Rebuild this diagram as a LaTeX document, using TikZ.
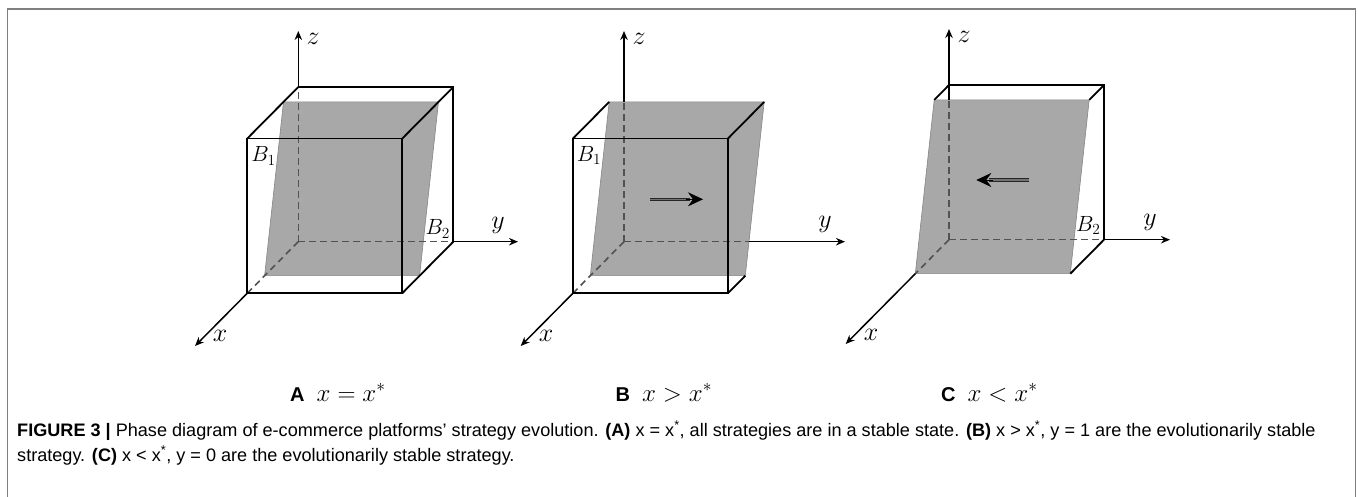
\RequirePackage{fix-cm}
\documentclass[tikz,border=0pt]{standalone}
\usepackage{fontspec}
\setmainfont{Liberation Sans}
\usetikzlibrary{arrows.meta}
\begin{document}
\begin{tikzpicture}[x=1pt,y=-1pt,
  edge/.style={line width=1.8pt,black,line join=miter},
  hid/.style={line width=1.6pt,draw=black!68,dash pattern=on 6.5pt off 4.5pt},
  axisarrow/.style={line width=1.5pt,black,-{Stealth[length=9pt,width=7.5pt]}},
  planefill/.style={fill=black!34,draw=black!48,line width=0.6pt},
  mlab/.style={font=\fontsize{26}{26}\selectfont,inner sep=0pt},
  blab/.style={font=\fontsize{22}{22}\selectfont,inner sep=0pt},
  plab/.style={font=\fontsize{20}{20}\selectfont,inner sep=0pt,anchor=base west},
  captext/.style={font=\fontsize{18.1}{22}\selectfont,inner sep=0pt,anchor=base west},
  dshaft/.style={line width=0.9pt,draw=black!85,double=black!55,double distance=1.3pt},
  dhead/.style={line width=0.8pt,black,-{Stealth[length=15pt,width=14pt,inset=5pt]}}]
\useasboundingbox (0,0) rectangle (1358,497);
% frame
\draw[black!50,line width=1.8pt] (7.5,497) -- (7.5,9) -- (1355.5,9) -- (1355.5,497);

% ================= Panel A =================
\begin{scope}
\coordinate (aO) at (298.3,241.7);
\coordinate (aBR) at (453.3,241.7);
\coordinate (aTR) at (453.3,87);
\coordinate (aTL) at (298.3,87);
\coordinate (afBL) at (247.3,293.2);
\coordinate (afBR) at (402.3,293.2);
\coordinate (afTR) at (402.3,138.5);
\coordinate (afTL) at (247.3,138.5);
\coordinate (apTL) at (283.5,101.9);
\coordinate (apTR) at (438.5,101.9);
\coordinate (apBR) at (419.6,275.7);
\coordinate (apBL) at (264.6,275.7);
\coordinate (azT) at (298.3,31);
\coordinate (ayT) at (518,241.7);
\coordinate (axT) at (195,346);
\draw[planefill] (apTL) -- (apTR) -- (apBR) -- (apBL) -- cycle;
\draw[hid] (aO) -- (aTL);
\draw[hid] (aO) -- (aBR);
\draw[hid] (aO) -- (afBL);
\draw[axisarrow] (aTL) -- (azT);
\draw[axisarrow] (aBR) -- (ayT);
\draw[axisarrow] (afBL) -- (axT);
\draw[edge] (aTL) -- (aTR) -- (aBR);
\draw[edge] (aTL) -- (afTL);
\draw[edge] (aTR) -- (afTR);
\draw[edge] (aBR) -- (afBR);
\draw[edge] (afBL) rectangle (afTR);
\node[mlab] (azl) at (313,39) {$z$};
\node[mlab] (ayl) at (498,225) {$y$};
\node[mlab] (axl) at (220,336) {$x$};
\node[blab] (ab1) at (263.5,156) {$B_1$};
\node[blab] (ab2) at (437.7,229) {$B_2$};
\node[plab] (acap) at (290,401) {\textbf{A}\hspace{12pt}\fontsize{25}{25}\selectfont$x=x^{*}$};
\end{scope}

% ================= Panel B =================
\begin{scope}
\coordinate (bO) at (624,241.7);
\coordinate (bfBL) at (573,293.2);
\coordinate (bfBR) at (728,293.2);
\coordinate (bfTR) at (728,138.5);
\coordinate (bfTL) at (573,138.5);
\coordinate (bpTL) at (609.2,101.9);
\coordinate (bpTR) at (764.2,101.9);
\coordinate (bpBR) at (745.3,275.7);
\coordinate (bpBL) at (590.3,275.7);
\coordinate (bzS) at (624,101.9);
\coordinate (byS) at (749.3,241.7);
\coordinate (bzT) at (624,31);
\coordinate (byT) at (845,241.7);
\coordinate (bxT) at (520.7,346);
\draw[planefill] (bpTL) -- (bpTR) -- (bpBR) -- (bpBL) -- cycle;
\draw[hid] (bO) -- (bzS);
\draw[hid] (bO) -- (byS);
\draw[hid] (bO) -- (bfBL);
\draw[axisarrow] (bzS) -- (bzT);
\draw[axisarrow] (byS) -- (byT);
\draw[axisarrow] (bfBL) -- (bxT);
\draw[edge] (bfTL) -- (bpTL);
\draw[edge] (bfTR) -- (bpTR);
\draw[edge] (bfBR) -- (bpBR);
\draw[edge] (bfBL) rectangle (bfTR);
\coordinate (bas) at (650,199.3);
\coordinate (bam) at (690,199.3);
\coordinate (bah) at (686,199.3);
\coordinate (bae) at (703,199.3);
\draw[dshaft] (bas) -- (bam);
\draw[dhead] (bah) -- (bae);
\node[mlab] (bzl) at (639,39) {$z$};
\node[mlab] (byl) at (825,224) {$y$};
\node[mlab] (bxl) at (546,336) {$x$};
\node[blab] (bb1) at (589,155.5) {$B_1$};
\node[plab] (bcap) at (615.5,401) {\textbf{B}\hspace{12pt}\fontsize{25}{25}\selectfont$x>x^{*}$};
\end{scope}

% ================= Panel C =================
\begin{scope}
\coordinate (cO) at (949,239.7);
\coordinate (cBR) at (1104,239.7);
\coordinate (cTR) at (1104,85);
\coordinate (cTL) at (949,85);
\coordinate (cpTL) at (934.2,99.9);
\coordinate (cpTR) at (1089.2,99.9);
\coordinate (cpBR) at (1070.3,273.7);
\coordinate (cpBL) at (915.3,273.7);
\coordinate (czS) at (949,99.9);
\coordinate (czT) at (949,29);
\coordinate (cyT) at (1170,239.7);
\coordinate (cxT) at (845.7,344);
\draw[planefill] (cpTL) -- (cpTR) -- (cpBR) -- (cpBL) -- cycle;
\draw[hid] (cO) -- (czS);
\draw[hid] (cO) -- (cBR);
\draw[hid] (cO) -- (cpBL);
\draw[axisarrow] (czS) -- (czT);
\draw[axisarrow] (cBR) -- (cyT);
\draw[axisarrow] (cpBL) -- (cxT);
\draw[edge] (cpTL) -- (cTL) -- (cTR) -- (cBR) -- (cpBR);
\draw[edge] (cTR) -- (cpTR);
\coordinate (cas) at (1029.3,180);
\coordinate (cam) at (989.3,180);
\coordinate (cah) at (993.3,180);
\coordinate (cae) at (976.3,180);
\draw[dshaft] (cas) -- (cam);
\draw[dhead] (cah) -- (cae);
\node[mlab] (czl) at (964,37) {$z$};
\node[mlab] (cyl) at (1150,222) {$y$};
\node[mlab] (cxl) at (871,335) {$x$};
\node[blab] (cb2) at (1088.3,225.5) {$B_2$};
\node[plab] (ccap) at (941,401) {\textbf{C}\hspace{12pt}\fontsize{25}{25}\selectfont$x<x^{*}$};
\end{scope}

% ================= caption =================
\node[captext] (cap1) at (17,436) {\textbf{FIGURE 3 |} Phase diagram of e-commerce platforms’ strategy evolution. \textbf{(A)} x = x\textsuperscript{*}, all strategies are in a stable state. \textbf{(B)} x \textgreater{} x\textsuperscript{*}, y = 1 are the evolutionarily stable};
\node[captext] (cap2) at (17,461) {strategy. \textbf{(C)} x \textless{} x\textsuperscript{*}, y = 0 are the evolutionarily stable strategy.};
\end{tikzpicture}
\end{document}
